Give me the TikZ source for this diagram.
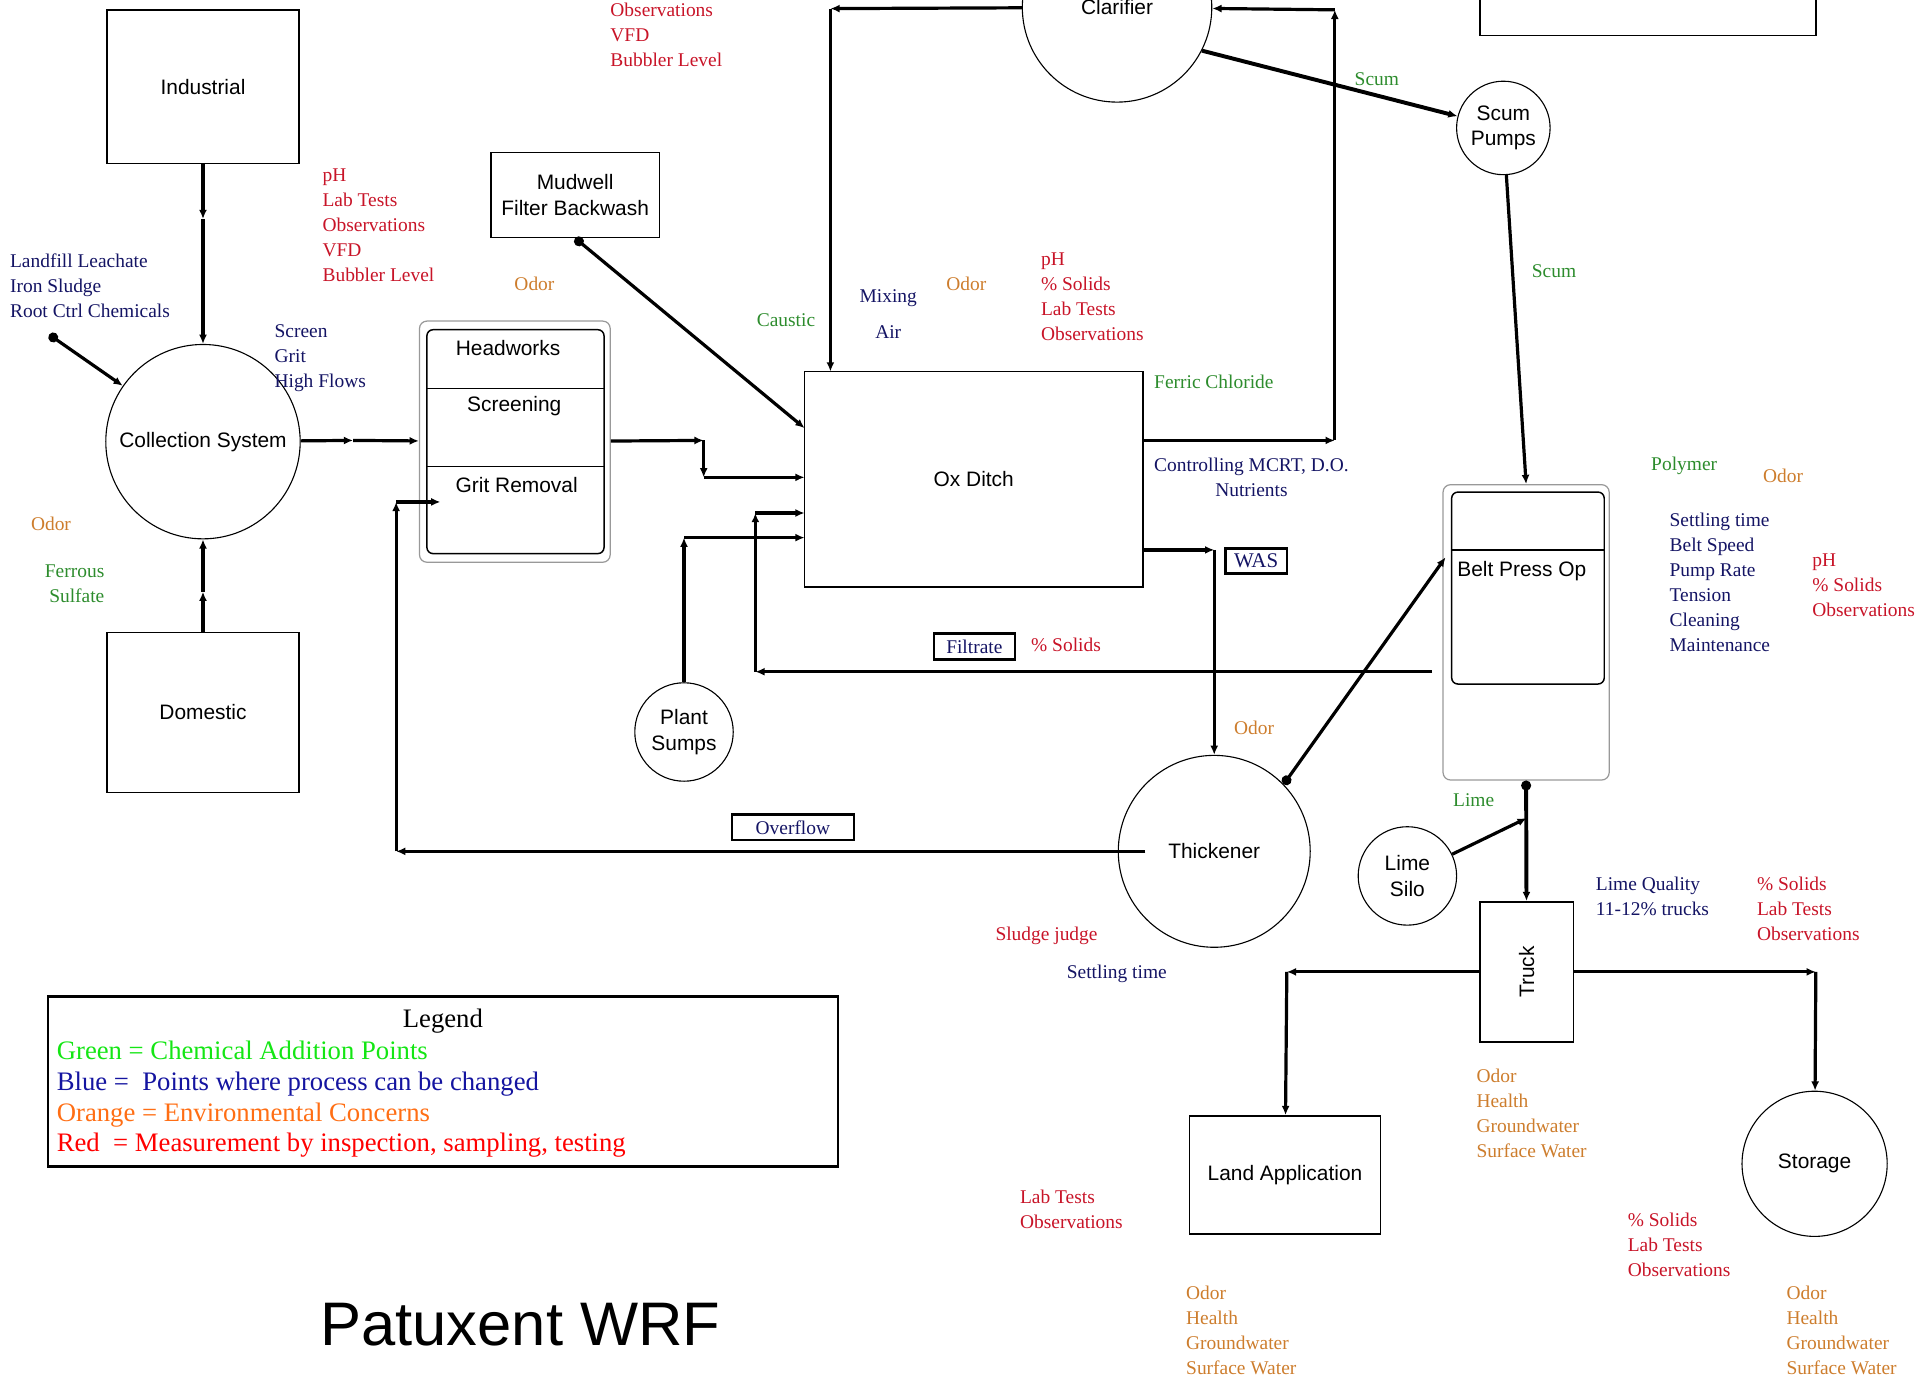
\documentclass[tikz,border=0pt]{standalone}
\usepackage{fontspec}
\setmainfont{Liberation Serif}
\setsansfont{Liberation Sans}
\usetikzlibrary{arrows.meta}

\definecolor{obsred}{RGB}{200,20,40}
\definecolor{envorange}{RGB}{205,125,45}
\definecolor{chemgreen}{RGB}{45,140,45}
\definecolor{ctrlblue}{RGB}{20,20,100}
\definecolor{keygreen}{RGB}{20,230,20}
\definecolor{keyblue}{RGB}{20,20,160}
\definecolor{keyorange}{RGB}{255,110,20}
\definecolor{keyred}{RGB}{255,0,0}

\begin{document}
\begin{tikzpicture}
  [x=1pt,y=-1pt,
   unit/.style={draw,line width=1.2pt,inner sep=0,align=center,
     font=\sffamily\fontsize{17}{21}\selectfont},
   tank/.style={unit,circle,line width=0.9pt},
   frame/.style={draw=black!40,line width=1pt,rounded corners=6pt,inner sep=0},
   txt/.style={inner sep=0,font=\sffamily\fontsize{17}{21}\selectfont},
   tag/.style={draw,line width=2pt,inner sep=0,text=ctrlblue,
     font=\fontsize{15.8}{19}\selectfont},
   note/.style={anchor=north west,align=left,inner sep=0,
     font=\fontsize{15.8}{20.3}\selectfont},
   rednote/.style={note,text=obsred},
   orangenote/.style={note,text=envorange},
   greennote/.style={note,text=chemgreen},
   bluenote/.style={note,text=ctrlblue},
   flow/.style={line width=2.6pt,-{Latex[length=7.5pt,width=6.5pt]}},
   tap/.style={line width=2.6pt,{Circle[length=8pt]}-{Latex[length=7.5pt,width=6.5pt]}}]
  \useasboundingbox (0,0) rectangle (1568,1119);

  % process units
  \node (ind) [unit,minimum width=156,minimum height=125] at (165,70.5) {Industrial};
  \node (dom) [unit,minimum width=156,minimum height=130] at (165,579) {Domestic};
  \node (coll) [tank,minimum size=158] at (165,359) {Collection System};
  \node (mud) [unit,minimum width=137,minimum height=69] at (467.5,158.5) {Mudwell\\Filter Backwash};
  \node (hw) [frame,minimum width=155,minimum height=196] at (418.5,359) {};
  \node (hwin) [draw,line width=1.2pt,rounded corners=5pt,minimum width=144,minimum height=182] at (419,359) {};
  \node (hwt) [txt] at (413,283) {Headworks};
  \node (scr) [txt] at (418,330) {Screening};
  \node (grit) [txt] at (420,394) {Grit Removal};
  \node (ox) [unit,minimum width=275,minimum height=175] at (791.5,389.5) {Ox Ditch};
  \node (clar) [tank,minimum size=154] at (908,6) {Clarifier};
  \node (top) [unit,minimum width=273,minimum height=48] at (1339.5,5) {};
  \node (scum) [tank,minimum size=76] at (1222,104) {Scum\\Pumps};
  \node (sumps) [tank,minimum size=80] at (556,595) {Plant\\Sumps};
  \node (thick) [tank,minimum size=156] at (987,692) {Thickener};
  \node (bp) [frame,minimum width=135,minimum height=240] at (1240.5,514) {};
  \node (bpin) [draw,line width=1.2pt,rounded corners=5pt,minimum width=124,minimum height=156] at (1242,478) {};
  \node (bpt) [txt] at (1237,464) {Belt Press Op};
  \node (lime) [tank,minimum size=80] at (1144,712) {Lime\\Silo};
  \node (truck) [unit,minimum width=76,minimum height=114] at (1241,790) {};
  \node (trt) [txt,rotate=90] at (1241,790) {Truck};
  \node (land) [unit,minimum width=155,minimum height=96] at (1044.5,955) {Land Application};
  \node (store) [tank,minimum size=118] at (1475,946) {Storage};
  \draw[line width=1.2pt] (hwin.west |- 0,316) -- (hwin.east |- 0,316);
  \draw[line width=1.2pt] (hwin.west |- 0,379) -- (hwin.east |- 0,379);
  \draw[line width=1.2pt] (bpin.west |- 0,447) -- (bpin.east |- 0,447);

  % stream tags
  \node (was) [tag,minimum width=50,minimum height=20,font=\fontsize{17}{19}\selectfont] at (1021,456) {WAS};
  \node (filt) [tag,minimum width=66,minimum height=21] at (792,525.5) {Filtrate};
  \node (over) [tag,minimum width=99,minimum height=21] at (644.5,672.5) {Overflow};

  % corner and tap points
  \coordinate (i1) at (165,178);
  \coordinate (d1) at (165,481);
  \coordinate (src) at (40,272);
  \coordinate (h1) at (287,358);
  \coordinate (h2) at (572,358);
  \coordinate (h3) at (572,388);
  \coordinate (ox1) at (654,388);
  \coordinate (ox2) at (654,348);
  \coordinate (ox3) at (654,417);
  \coordinate (ox4) at (654,437);
  \coordinate (p1) at (556,437);
  \coordinate (f1) at (1164,546);
  \coordinate (f2) at (614,546);
  \coordinate (f3) at (614,417);
  \coordinate (r1) at (675,7);
  \coordinate (r2) at (675,302);
  \coordinate (e1) at (929,358);
  \coordinate (e2) at (1085,358);
  \coordinate (e3) at (1085,8);
  \coordinate (w1) at (929,447);
  \coordinate (w2) at (987,447);
  \coordinate (o1) at (931,692);
  \coordinate (o2) at (322,692);
  \coordinate (o3) at (322,408);
  \coordinate (o4) at (358,408);
  \coordinate (b1) at (1175,453);
  \coordinate (l1) at (1241,665);
  \coordinate (t1) at (1046,790);
  \coordinate (t2) at (1476,790);

  \foreach \from/\to in {ind/i1,i1/coll,dom/d1,d1/coll,coll/h1,h1/hw,hw/h2,h2/h3,h3/ox1,
      sumps/p1,p1/ox4,f1/f2,f2/f3,f3/ox3,clar/r1,r1/r2,e1/e2,e2/e3,e3/clar,
      w1/w2,w2/thick,o1/o2,o2/o3,o3/o4,scum/bp.north,lime/l1,truck/t1,t1/land,truck/t2,t2/store}
    \draw[flow] (\from) -- (\to);
  \foreach \from/\to in {src/coll,mud.south/ox2,thick.44/b1}
    \draw[tap] (\from) -- (\to);
  \draw[flow,line width=3.2pt] (clar.-27) -- (scum);
  \draw[tap,line width=3.2pt] (bp.south) -- (truck);

  % notes
  \node (n1) [rednote] at (496,2) {Observations\\VFD\\Bubbler Level};
  \node (n2) [rednote] at (262,137) {pH\\Lab Tests\\Observations\\VFD\\Bubbler Level};
  \node (n3) [bluenote] at (8,206) {Landfill Leachate\\Iron Sludge\\Root Ctrl Chemicals};
  \node (n4) [bluenote] at (223,264) {Screen\\Grit\\High Flows};
  \node (n5) [orangenote] at (418,225) {Odor};
  \node (n6) [orangenote] at (25,420) {Odor};
  \node (n7) [greennote,anchor=north east,align=right] at (85,459) {Ferrous\\Sulfate};
  \node (n8) [greennote] at (615,255) {Caustic};
  \node (n9) [bluenote,anchor=north,align=center] at (722,235) {Mixing\\[9pt]Air};
  \node (n10) [orangenote] at (769,225) {Odor};
  \node (n11) [rednote] at (846,205) {pH\\\% Solids\\Lab Tests\\Observations};
  \node (n12) [greennote] at (938,305) {Ferric Chloride};
  \node (n13) [bluenote,align=center] at (938,372) {Controlling MCRT, D.O.\\Nutrients};
  \node (n14) [greennote] at (1101,59) {Scum};
  \node (n15) [greennote] at (1245,215) {Scum};
  \node (n16) [rednote] at (838,518) {\% Solids};
  \node (n17) [orangenote] at (1003,586) {Odor};
  \node (n18) [greennote] at (1342,371) {Polymer};
  \node (n19) [orangenote] at (1433,381) {Odor};
  \node (n20) [bluenote] at (1357,417) {Settling time\\Belt Speed\\Pump Rate\\Tension\\Cleaning\\Maintenance};
  \node (n21) [rednote] at (1473,450) {pH\\\% Solids\\Observations};
  \node (n22) [greennote] at (1181,645) {Lime};
  \node (n23) [bluenote] at (1297,713) {Lime Quality\\11-12\% trucks};
  \node (n24) [rednote] at (1428,713) {\% Solids\\Lab Tests\\Observations};
  \node (n25) [rednote] at (809,753) {Sludge judge};
  \node (n26) [bluenote] at (867,784) {Settling time};
  \node (n27) [orangenote] at (1200,869) {Odor\\Health\\Groundwater\\Surface Water};
  \node (n28) [orangenote] at (964,1045) {Odor\\Health\\Groundwater\\Surface Water};
  \node (n29) [orangenote] at (1452,1045) {Odor\\Health\\Groundwater\\Surface Water};
  \node (n30) [rednote] at (829,967) {Lab Tests\\Observations};
  \node (n31) [rednote] at (1323,986) {\% Solids\\Lab Tests\\Observations};

  % legend and title
  \node (key) [draw,line width=2pt,inner sep=0,minimum width=642,minimum height=138] at (360,879) {};
  \node (keyhead) [inner sep=0,font=\fontsize{21.7}{25}\selectfont] at (360,830) {Legend};
  \node (keytxt) [anchor=north west,align=left,inner sep=0,font=\fontsize{21.7}{25}\selectfont] at (46,846)
    {\textcolor{keygreen}{Green = Chemical Addition Points}\\
     \textcolor{keyblue}{Blue =~ Points where process can be changed}\\
     \textcolor{keyorange}{Orange = Environmental Concerns}\\
     \textcolor{keyred}{Red~ = Measurement by inspection, sampling, testing}};
  \node (title) [inner sep=0,font=\sffamily\fontsize{50}{60}\selectfont] at (423,1077) {Patuxent WRF};
\end{tikzpicture}
\end{document}
